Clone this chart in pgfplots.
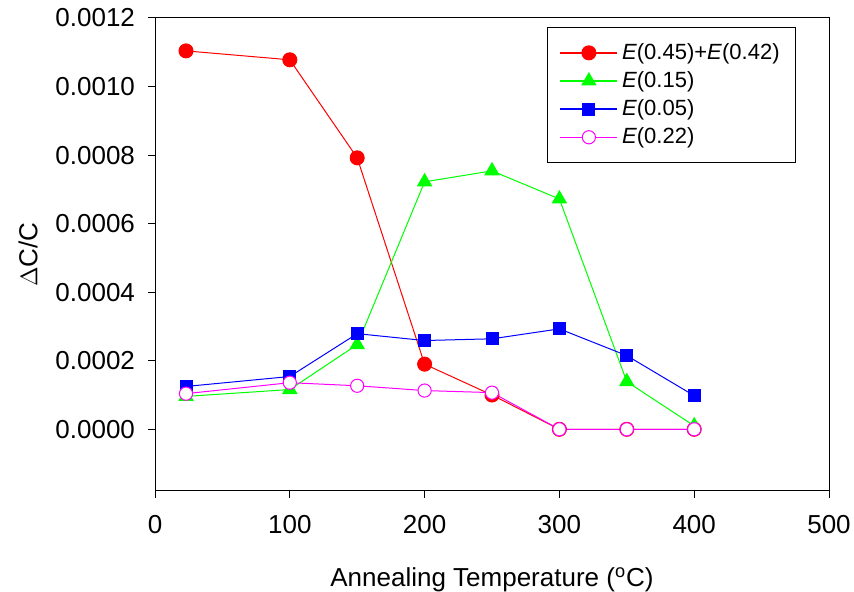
\documentclass[border=0pt]{standalone}
\usepackage{fontspec}
\setmainfont{Liberation Sans}
\usepackage{pgfplots}
\pgfplotsset{compat=1.18}
\definecolor{cred}{RGB}{255,0,0}
\definecolor{cgreen}{RGB}{0,255,0}
\definecolor{cblue}{RGB}{0,0,255}
\definecolor{cmag}{RGB}{255,0,255}
\begin{document}
\begin{tikzpicture}
\useasboundingbox (-77.5pt,-50.5pt) rectangle ++(427pt,296pt);
\begin{axis}[
  scale only axis,
  width=337pt, height=236.5pt,
  xmin=0, xmax=500,
  ymin=-0.00018, ymax=0.0012,
  xtick={0,100,200,300,400,500},
  ytick={0,0.0002,0.0004,0.0006,0.0008,0.0010,0.0012},
  scaled y ticks=false,
  yticklabel style={/pgf/number format/fixed,/pgf/number format/fixed zerofill,/pgf/number format/precision=4},
  /pgf/number format/assume math mode=true,
  tick align=outside,
  xtick pos=left, ytick pos=left,
  major tick length=3.5pt,
  tick style={black, line width=0.5pt},
  axis line style={line width=0.5pt},
  ticklabel style={font=\fontsize{13}{15}\selectfont},
  xticklabel style={yshift=-5pt},
  yticklabel style={xshift=-3pt},
  xlabel={Annealing Temperature (\textsuperscript{o}C)},
  ylabel={$\Delta$C/C},
  label style={font=\fontsize{13}{15}\selectfont},
  xlabel style={yshift=-10pt},
  ylabel style={yshift=2pt},
  legend style={
    at={(0.951,0.981)}, anchor=north east,
    font=\fontsize{11}{13}\selectfont,
    row sep=0.6pt, inner sep=6pt,
    cells={anchor=west},
  },
  legend image code/.code={
    \draw[mark repeat=2,mark phase=2,#1,line width=0.7pt] plot coordinates {(0cm,0cm) (0.5cm,0cm) (1.0cm,0cm)};
  },
  every axis plot/.append style={line width=0.5pt},
]
\addplot[color=cred, draw=cred, mark=*, mark size=3.5pt, mark options={fill=cred, draw=cred, line width=0.5pt}]
  coordinates {(23,0.001104) (100,0.001078) (150,0.000792) (200,0.000190) (250,0.000100) (300,0) (350,0) (400,0)};
\addlegendentry{\textit{E}(0.45)+\textit{E}(0.42)}
\addplot[color=cgreen, draw=cgreen, mark=triangle*, mark size=4pt, mark options={fill=cgreen, draw=cgreen, line width=0.5pt}]
  coordinates {(23,0.000096) (100,0.000116) (150,0.000247) (200,0.000722) (250,0.000754) (300,0.000672) (350,0.000139) (400,0.000010)};
\addlegendentry{\textit{E}(0.15)}
\addplot[color=cblue, draw=cblue, mark=square*, mark size=3pt, mark options={fill=cblue, draw=cblue, line width=0.5pt}]
  coordinates {(23,0.000125) (100,0.000154) (150,0.000279) (200,0.000259) (250,0.000264) (300,0.000293) (350,0.000215) (400,0.000098)};
\addlegendentry{\textit{E}(0.05)}
\addplot[color=cmag, draw=cmag, mark=*, mark size=3.3pt, mark options={fill=white, draw=cmag, line width=0.5pt}]
  coordinates {(23,0.000104) (100,0.000136) (150,0.000127) (200,0.000113) (250,0.000107) (300,0) (350,0) (400,0)};
\addlegendentry{\textit{E}(0.22)}
\end{axis}
\end{tikzpicture}
\end{document}
